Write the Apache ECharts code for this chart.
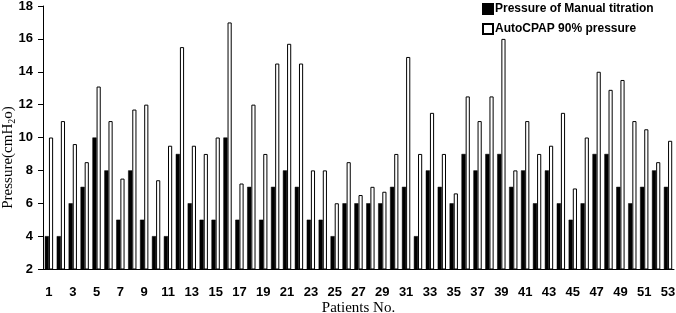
<!DOCTYPE html>
<html>
<head>
<meta charset="utf-8">
<script src="https://cdn.jsdelivr.net/npm/echarts@6.0.0/dist/echarts.min.js"></script>
</head>
<body style="margin:0">
<div id="main" style="width:676px;height:313px"></div>
<script>
var patients = [];
for (var i = 1; i <= 53; i++) patients.push(String(i));

var manual = [4, 4, 6, 7, 10, 8, 5, 8, 5, 4, 4, 9, 6, 5, 5, 10, 5, 7, 5, 7,
    8, 7, 5, 5, 4, 6, 6, 6, 6, 7, 7, 4, 8, 7, 6, 9, 8, 9, 9, 7,
    8, 6, 8, 6, 5, 6, 9, 9, 7, 6, 7, 8, 7];

var autoCpap = [10, 11, 9.6, 8.5, 13.1, 11, 7.5, 11.7, 12, 7.4, 9.5, 15.5, 9.5, 9, 10, 17, 7.2, 12, 9, 14.5,
    15.7, 14.5, 8, 8, 6, 8.5, 6.5, 7, 6.7, 9, 14.9, 9, 11.5, 9, 6.6, 12.5, 11, 12.5, 16, 8,
    11, 9, 9.5, 11.5, 6.9, 10, 14, 12.9, 13.5, 11, 10.5, 8.5, 9.8];

var chart = echarts.init(document.getElementById('main'));
var option = {
    animation: false,
    legend: {
        orient: 'vertical',
        left: 477,
        top: -2,
        icon: 'rect',
        itemWidth: 10,
        itemHeight: 10,
        itemGap: 8,
        textStyle: { fontFamily: 'Liberation Sans', fontWeight: 'bold', fontSize: 12, color: '#000', padding: [0, 0, 0, -3] },
        data: ['Pressure of Manual titration', 'AutoCPAP 90% pressure']
    },
    grid: { left: 43, right: 2, top: 6, bottom: 44, outerBoundsMode: 'none', containLabel: false },
    xAxis: {
        type: 'category',
        data: patients,
        name: 'Patients No.',
        nameLocation: 'middle',
        nameGap: 32,
        nameMoveOverlap: false,
        nameTextStyle: { fontFamily: 'Liberation Serif', fontSize: 15, color: '#000' },
        axisLine: { lineStyle: { color: '#000', width: 1 } },
        axisTick: { lineStyle: { color: '#000' }, length: 5 },
        axisLabel: {
            interval: 1,
            margin: 17,
            fontFamily: 'Liberation Sans',
            fontWeight: 'bold',
            fontSize: 13,
            color: '#000'
        }
    },
    yAxis: {
        type: 'value',
        min: 2,
        max: 18,
        interval: 2,
        name: '{n|Pressure(cmH}{s|2}{n|o)}',
        nameLocation: 'middle',
        nameGap: 26,
        nameMoveOverlap: false,
        nameRotate: 90,
        nameTextStyle: {
            padding: [0, 0, 0, -40],
            rich: {
                n: { fontFamily: 'Liberation Serif', fontSize: 15, color: '#000' },
                s: { fontFamily: 'Liberation Serif', fontSize: 10, color: '#000', padding: [7, 0, 0, 0] }
            }
        },
        axisLine: { show: true, lineStyle: { color: '#000', width: 1 } },
        axisTick: { show: true, lineStyle: { color: '#000' }, length: 5 },
        splitLine: { show: false },
        axisLabel: {
            margin: 10,
            fontFamily: 'Liberation Sans',
            fontWeight: 'bold',
            fontSize: 13,
            color: '#000'
        }
    },
    series: [
        {
            name: 'Pressure of Manual titration',
            type: 'bar',
            data: manual,
            barGap: 0,
            barCategoryGap: '30%',
            itemStyle: { color: '#000', borderColor: '#000', borderWidth: 0.5 }
        },
        {
            name: 'AutoCPAP 90% pressure',
            type: 'bar',
            data: autoCpap,
            itemStyle: { color: '#fff', borderColor: '#000', borderWidth: 1 }
        }
    ]
};
chart.setOption(option);
</script>
</body>
</html>
